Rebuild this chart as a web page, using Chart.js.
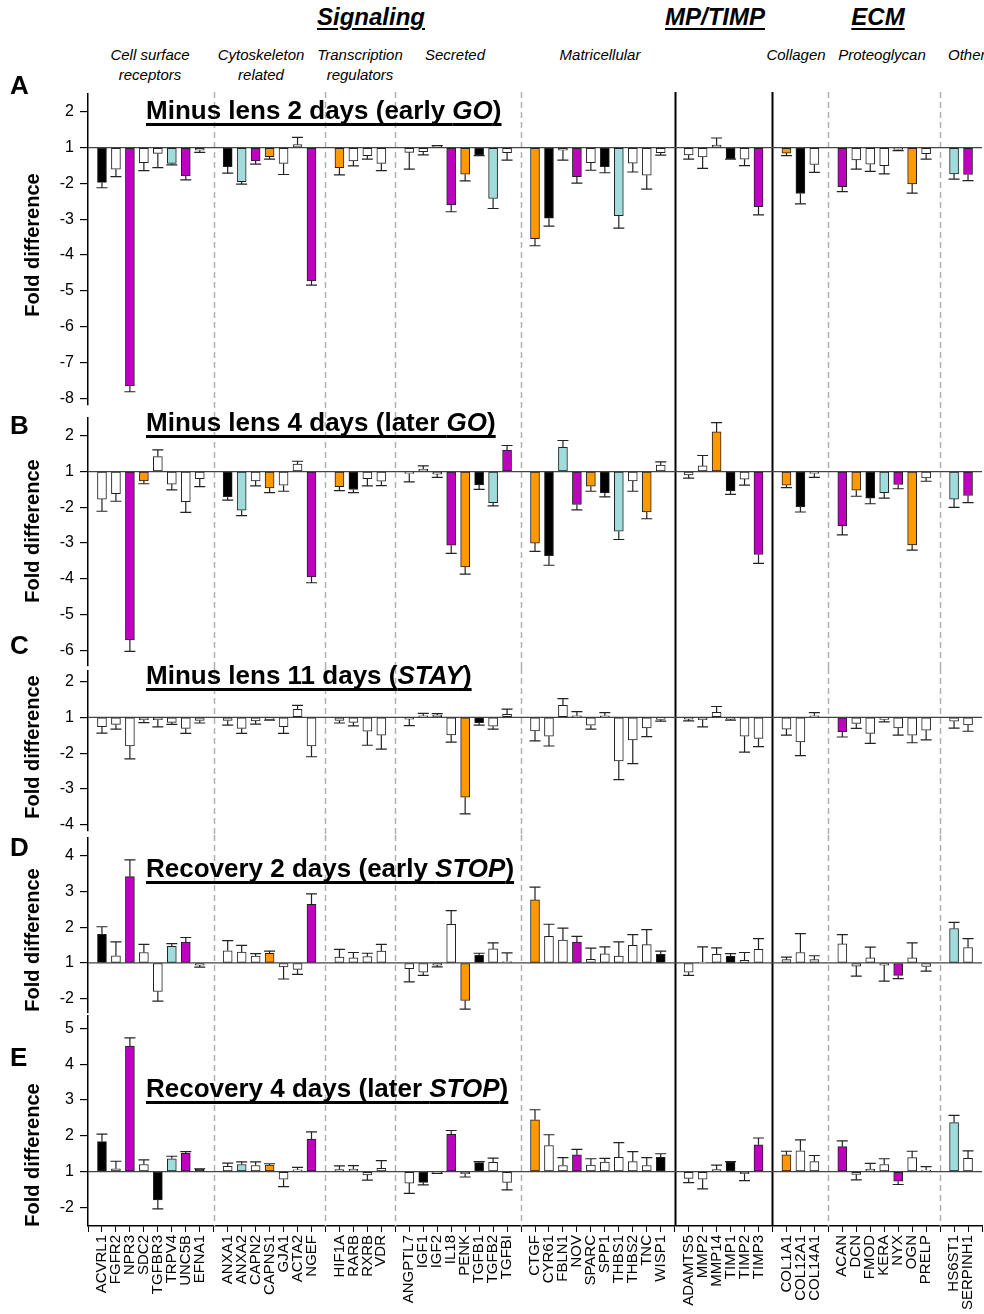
<!DOCTYPE html>
<html>
<head>
<meta charset="utf-8">
<script src="https://cdn.jsdelivr.net/npm/chart.js@4.4.0/dist/chart.umd.min.js"></script>
<style>
  body { margin: 0; background: #fff; }
  #page { position: relative; width: 984px; height: 1314px; overflow: hidden; font-family: "Liberation Sans", Arial, sans-serif; color: #000; }
  canvas { position: absolute; left: 0; }
  .t { position: absolute; white-space: nowrap; }
  .head { font-size: 24px; font-weight: bold; font-style: italic; line-height: 24px; text-decoration: underline; text-decoration-thickness: 2px; text-underline-offset: 3px; transform: translateX(-50%); }
  .sub { font-size: 15px; font-style: italic; line-height: 20px; text-align: center; transform: translateX(-50%); }
  .letter { font-size: 26px; font-weight: bold; line-height: 26px; left: 10px; }
  .ytitle { font-size: 20px; font-weight: bold; line-height: 24px; width: 200px; text-align: center; transform: rotate(-90deg); }
  .ptitle { font-size: 26px; font-weight: bold; line-height: 26px; left: 146px; text-decoration: underline; text-decoration-thickness: 2.5px; text-underline-offset: 4px; text-decoration-skip-ink: none; }
</style>
</head>
<body>
<div id="page">
  <canvas id="cA" width="984" height="320" style="top:92px"></canvas>
  <canvas id="cB" width="984" height="256" style="top:412px"></canvas>
  <canvas id="cC" width="984" height="167" style="top:668px"></canvas>
  <canvas id="cD" width="984" height="180" style="top:835px"></canvas>
  <canvas id="cE" width="984" height="299" style="top:1015px"></canvas>

  <div class="t head" style="left:371px;top:5px">Signaling</div>
  <div class="t head" style="left:715px;top:5px">MP/TIMP</div>
  <div class="t head" style="left:878px;top:5px">ECM</div>

  <div class="t sub" style="left:150px;top:45px">Cell surface<br>receptors</div>
  <div class="t sub" style="left:261px;top:45px">Cytoskeleton<br>related</div>
  <div class="t sub" style="left:360px;top:45px">Transcription<br>regulators</div>
  <div class="t sub" style="left:455px;top:45px">Secreted</div>
  <div class="t sub" style="left:600px;top:45px">Matricellular</div>
  <div class="t sub" style="left:796px;top:45px">Collagen</div>
  <div class="t sub" style="left:882px;top:45px">Proteoglycan</div>
  <div class="t sub" style="left:948px;top:45px;transform:none">Other</div>

  <div class="t letter" style="top:72px">A</div>
  <div class="t letter" style="top:412px">B</div>
  <div class="t letter" style="top:632px">C</div>
  <div class="t letter" style="top:834px">D</div>
  <div class="t letter" style="top:1044px">E</div>

  <div class="t ytitle" style="left:-68px;top:233px">Fold difference</div>
  <div class="t ytitle" style="left:-68px;top:519px">Fold difference</div>
  <div class="t ytitle" style="left:-68px;top:735px">Fold difference</div>
  <div class="t ytitle" style="left:-68px;top:928px">Fold difference</div>
  <div class="t ytitle" style="left:-68px;top:1143px">Fold difference</div>

  <div class="t ptitle" style="top:97px">Minus lens 2 days (early <i>GO</i>)</div>
  <div class="t ptitle" style="top:409px">Minus lens 4 days (later <i>GO</i>)</div>
  <div class="t ptitle" style="top:662px">Minus lens 11 days (<i>STAY</i>)</div>
  <div class="t ptitle" style="top:855px">Recovery 2 days (early <i>STOP</i>)</div>
  <div class="t ptitle" style="top:1075px">Recovery 4 days (later <i>STOP</i>)</div>
</div>

<script>
// genes in plotting order, grouped
const genes = [
  "ACVRL1", "FGFR2", "NPR3", "SDC2", "TGFBR3", "TRPV4", "UNC5B", "EFNA1",
  "ANXA1", "ANXA2", "CAPN2", "CAPNS1", "GJA1", "ACTA2", "NGEF",
  "HIF1A", "RARB", "RXRB", "VDR",
  "ANGPTL7", "IGF1", "IGF2", "IL18", "PENK", "TGFB1", "TGFB2", "TGFBI",
  "CTGF", "CYR61", "FBLN1", "NOV", "SPARC", "SPP1", "THBS1", "THBS2", "TNC", "WISP1",
  "ADAMTS5", "MMP2", "MMP14", "TIMP1", "TIMP2", "TIMP3",
  "COL1A1", "COL12A1", "COL14A1",
  "ACAN", "DCN", "FMOD", "KERA", "NYX", "OGN", "PRELP",
  "HS6ST1", "SERPINH1",
];
const groupSizes = [8, 7, 4, 8, 10, 6, 3, 7, 2];
const yTicks = [-7, -6, -5, -4, -3, -2, -1, 0, 1, 2, 3, 4];

// fold difference values, error (SEM) and bar class per panel
const foldA = [
  -1.97, -1.60, -7.66, -1.42, -1.16, -1.44, -1.79, -1.07,
  -1.53, -1.95, -1.37, -1.25, -1.44, 1.09, -4.72,
  -1.56, -1.37, -1.22, -1.44,
  -1.13, -1.11, 1.04, -2.60, -1.74, -1.20, -2.42, -1.14,
  -3.54, -2.97, -1.07, -1.81, -1.42, -1.53, -2.90, -1.43, -1.77, -1.14,
  -1.20, -1.26, 1.07, -1.31, -1.32, -2.65,
  -1.15, -2.28, -1.47,
  -2.09, -1.34, -1.46, -1.50, -1.05, -2.01, -1.17,
  -1.73, -1.75,
];
const errA = [
  .15, .21, .16, .22, .40, .04, .11, .06,
  .18, .07, .09, .07, .31, .20, .12,
  .20, .14, .10, .20,
  .47, .09, .02, .19, .19, .02, .28, .21,
  .20, .22, .28, .18, .21, .17, .35, .25, .39, .07,
  .12, .32, .20, .01, .18, .23,
  .07, .29, .22,
  .14, .26, .20, .23, .03, .26, .15,
  .15, .17,
];
const sigA = "kwmwwcmw kcmowwm owww wwwmokcw okwmwkcwww wwwkwm okw mwwwwow cm";

const foldB = [
  -1.77, -1.62, -5.71, -1.26, 1.42, -1.35, -1.84, -1.20,
  -1.70, -2.08, -1.26, -1.46, -1.38, 1.21, -3.95,
  -1.42, -1.50, -1.20, -1.27,
  -1.05, 1.07, -1.07, -3.06, -3.67, -1.37, -1.87, 1.60,
  -3.00, -3.35, 1.68, -1.92, -1.41, -1.60, -2.67, -1.26, -2.13, 1.18,
  -1.09, 1.16, 2.11, -1.54, -1.21, -3.32,
  -1.38, -1.98, -1.05,
  -2.52, -1.52, -1.74, -1.59, -1.36, -3.05, -1.18,
  -1.77, -1.67,
];
const errB = [
  .34, .21, .32, .08, .19, .16, .30, .22,
  .10, .15, .14, .13, .17, .08, .16,
  .11, .09, .20, .12,
  .24, .09, .09, .23, .20, .13, .09, .13,
  .23, .27, .19, .15, .14, .11, .23, .29, .19, .09,
  .09, .29, .26, .10, .17, .25,
  .07, .15, .11,
  .25, .17, .16, .15, .12, .15, .09,
  .23, .20,
];
const sigB = "wwmowwww kcwowwm okww wwwmokcm okcmokcwow wwokwm okw mokcmow cm";

const foldC = [
  -1.26, -1.20, -1.80, -1.07, -1.07, -1.14, -1.31, -1.09,
  -1.09, -1.31, -1.10, -1.06, -1.26, 1.22, -1.80,
  -1.09, -1.14, -1.39, -1.50,
  -1.05, 1.04, 1.06, -1.49, -3.23, -1.15, -1.25, 1.08,
  -1.38, -1.53, 1.33, 1.04, -1.22, 1.04, -2.22, -1.63, -1.30, -1.06,
  -1.05, -1.07, 1.14, -1.05, -1.53, -1.59,
  -1.33, -1.69, 1.04,
  -1.40, -1.17, -1.45, -1.06, -1.30, -1.50, -1.36,
  -1.11, -1.21,
];
const errC = [
  .18, .13, .36, .08, .20, .06, .14, .07,
  .13, .14, .09, .02, .19, .11, .30,
  .07, .10, .39, .39,
  .18, .07, .04, .20, .46, .07, .08, .15,
  .28, .27, .19, .12, .11, .09, .52, .66, .24, .05,
  .05, .20, .16, .03, .44, .23,
  .17, .38, .09,
  .15, .14, .28, .07, .20, .21, .27,
  .19, .18,
];
const sigC = "wwwwwwww wwwwwww wwww wwwwokww wwwwwwwwww wwwwww www mwwwwww ww";

const foldD = [
  1.80, 1.20, 3.41, 1.29, -1.80, 1.46, 1.58, -1.06,
  1.34, 1.30, 1.19, 1.27, -1.11, -1.18, 2.64,
  1.16, 1.14, 1.18, 1.33,
  -1.16, -1.26, -1.06, 2.08, -2.05, 1.21, 1.39, 1.04,
  2.76, 1.74, 1.64, 1.58, 1.10, 1.25, 1.19, 1.49, 1.51, 1.24,
  -1.26, 1.02, 1.24, 1.19, 1.07, 1.38,
  1.09, 1.29, 1.09,
  1.53, -1.09, 1.14, -1.06, -1.35, 1.14, -1.10,
  1.96, 1.43,
];
const errD = [
  .21, .39, .47, .23, .27, .08, .13, .06,
  .28, .19, .07, .06, .34, .14, .29,
  .22, .15, .09, .19,
  .37, .09, .05, .38, .24, .06, .17, .24,
  .36, .34, .33, .16, .31, .20, .40, .30, .42, .09,
  .09, .43, .18, .07, .22, .30,
  .07, .53, .11,
  .26, .28, .30, .45, .09, .42, .13,
  .17, .25,
];
const sigD = "kwmwwcmw wwwowwm wwww wwwwokww owwmwwwwwk wwwkww www wwwwmww cw";

const foldE = [
  1.84, 1.08, 4.51, 1.20, -1.79, 1.36, 1.51, 1.07,
  1.15, 1.20, 1.17, 1.18, -1.21, 1.05, 1.91,
  1.06, 1.07, -1.09, 1.09,
  -1.32, -1.30, -1.04, 2.04, -1.06, 1.25, 1.26, -1.30,
  2.45, 1.73, 1.17, 1.47, 1.18, 1.27, 1.40, 1.28, 1.17, 1.40,
  -1.19, -1.21, 1.06, 1.27, -1.06, 1.75,
  1.47, 1.58, 1.28,
  1.70, -1.08, 1.07, 1.20, -1.27, 1.39, 1.04,
  2.37, 1.37,
];
const errE = [
  .21, .21, .23, .13, .25, .07, .05, .01,
  .09, .07, .10, .04, .21, .07, .20,
  .10, .10, .15, .22,
  .29, .07, .01, .11, .09, .03, .12, .21,
  .28, .30, .22, .15, .18, .10, .41, .28, .22, .10,
  .12, .27, .12, .01, .19, .19,
  .10, .31, .17,
  .16, .15, .16, .16, .09, .18, .10,
  .20, .21,
];
const sigE = "kwmwkcmk wcwowwm wwww wkwmwkww owwmwwwwwk wwwkwm oww mwwwmww cw";

const colorMap = { k: "#000000", w: "#ffffff", o: "#ff9900", m: "#c000c0", c: "#a0dcdc" };
const sepKinds = ["dash", "dash", "dash", "dash", "solid", "solid", "dash", "dash"];
const FONT = '"Liberation Sans", Arial, sans-serif';

// fold difference -> axis units (1 and -1 both sit on zero)
function toAxis(f) {
  return f >= 0 ? f - 1 : f + 1;
}

// category slots: an empty slot at the y axis, one empty slot between groups, one at the end
const labels = [""];
const slotGene = [null];
const gapSlots = [];
let gi = 0;
groupSizes.forEach((n, k) => {
  for (let i = 0; i < n; i++) {
    labels.push(genes[gi]);
    slotGene.push(gi);
    gi++;
  }
  if (k < groupSizes.length - 1) {
    gapSlots.push(labels.length);
    labels.push("");
    slotGene.push(null);
  }
});
labels.push("");
slotGene.push(null);

const separatorPlugin = {
  id: "separators",
  beforeDatasetsDraw(chart, args, opts) {
    const ctx = chart.ctx;
    const x = chart.scales.x;
    const bottom = opts.last ? chart.chartArea.bottom : chart.height;
    ctx.save();
    gapSlots.forEach((slot, k) => {
      const px = Math.round(x.getPixelForValue(slot)) + 0.5;
      ctx.beginPath();
      if (sepKinds[k] === "dash") {
        ctx.setLineDash([6, 4]);
        ctx.strokeStyle = "#b0b0b0";
        ctx.lineWidth = 1.5;
      } else {
        ctx.setLineDash([]);
        ctx.strokeStyle = "#000";
        ctx.lineWidth = 2;
      }
      ctx.moveTo(px, 0);
      ctx.lineTo(px, bottom);
      ctx.stroke();
    });
    // baseline at fold difference 1
    const y0 = chart.scales.y.getPixelForValue(0);
    ctx.setLineDash([]);
    ctx.strokeStyle = "#444";
    ctx.lineWidth = 1.3;
    ctx.beginPath();
    ctx.moveTo(chart.chartArea.left, y0);
    ctx.lineTo(chart.chartArea.right, y0);
    ctx.stroke();
    ctx.restore();
  },
};

const errorBarPlugin = {
  id: "errorbars",
  afterDatasetsDraw(chart, args, opts) {
    const ctx = chart.ctx;
    const y = chart.scales.y;
    const meta = chart.getDatasetMeta(0);
    ctx.save();
    ctx.strokeStyle = "#222";
    ctx.lineWidth = 1.2;
    meta.data.forEach((bar, k) => {
      const g = slotGene[k];
      if (g === null) return;
      const v = toAxis(opts.fold[g]);
      const dir = v >= 0 ? 1 : -1;
      const yEnd = y.getPixelForValue(v + dir * opts.err[g]);
      ctx.beginPath();
      ctx.moveTo(bar.x, bar.y);
      ctx.lineTo(bar.x, yEnd);
      ctx.moveTo(bar.x - 5.5, yEnd);
      ctx.lineTo(bar.x + 5.5, yEnd);
      ctx.stroke();
    });
    ctx.restore();
  },
};

const panels = [
  { id: "A", fold: foldA, err: errA, sig: sigA, min: -7.19, max: 1.5, padTop: 2, padBottom: 7 },
  { id: "B", fold: foldB, err: errB, sig: sigB, min: -5.44, max: 1.5, padTop: 6, padBottom: 2 },
  { id: "C", fold: foldC, err: errC, sig: sigC, min: -3.17, max: 1.29, padTop: 3, padBottom: 4 },
  { id: "D", fold: foldD, err: errD, sig: sigD, min: -1.4, max: 3.49, padTop: 3, padBottom: 2 },
  { id: "E", fold: foldE, err: errE, sig: sigE, min: -1.52, max: 4.35, padTop: 1, padBottom: 0 },
];

function makeChart(p, last) {
  const sig = p.sig.replace(/ /g, "");
  const values = slotGene.map((g) => (g === null ? null : toAxis(p.fold[g])));
  const colors = slotGene.map((g) => (g === null ? "#fff" : colorMap[sig[g]]));

  new Chart(document.getElementById("c" + p.id), {
    type: "bar",
    data: {
      labels: labels,
      datasets: [
        {
          data: values,
          backgroundColor: colors,
          borderColor: "#222",
          borderWidth: 1,
          borderSkipped: false,
          barThickness: 9,
        },
      ],
    },
    options: {
      responsive: false,
      animation: false,
      layout: { padding: { top: p.padTop, bottom: p.padBottom, left: 0, right: 2 } },
      plugins: {
        legend: { display: false },
        tooltip: { enabled: false },
        separators: { last: last },
        errorbars: { fold: p.fold, err: p.err },
      },
      scales: {
        x: {
          type: "category",
          offset: false,
          display: last,
          grid: { offset: false, drawOnChartArea: false, drawTicks: true, tickLength: 6, color: "#000", lineWidth: 1 },
          border: { color: "#000", width: 1.5 },
          ticks: {
            autoSkip: false,
            minRotation: 90,
            maxRotation: 90,
            padding: 3,
            color: "#000",
            font: { family: FONT, size: 15 },
          },
          afterFit: (s) => {
            s.height = last ? 88 : 0;
            s.paddingLeft = 0;
            s.paddingRight = 0;
          },
        },
        y: {
          min: p.min,
          max: p.max,
          afterBuildTicks: (s) => {
            s.ticks = yTicks.filter((v) => v >= s.min && v <= s.max).map((v) => ({ value: v }));
          },
          ticks: {
            padding: 6,
            color: "#000",
            font: { family: FONT, size: 16 },
            callback: (v) => (v >= 0 ? v + 1 : v - 1),
          },
          grid: { drawOnChartArea: false, tickLength: 8, color: "#000", lineWidth: 1.2 },
          border: { color: "#000", width: 1.5 },
          afterFit: (s) => {
            s.width = 88;
            s.paddingTop = 0;
            s.paddingBottom = 0;
          },
        },
      },
    },
    plugins: [separatorPlugin, errorBarPlugin],
  });
}

panels.forEach((p, i) => makeChart(p, i === panels.length - 1));
</script>
</body>
</html>
